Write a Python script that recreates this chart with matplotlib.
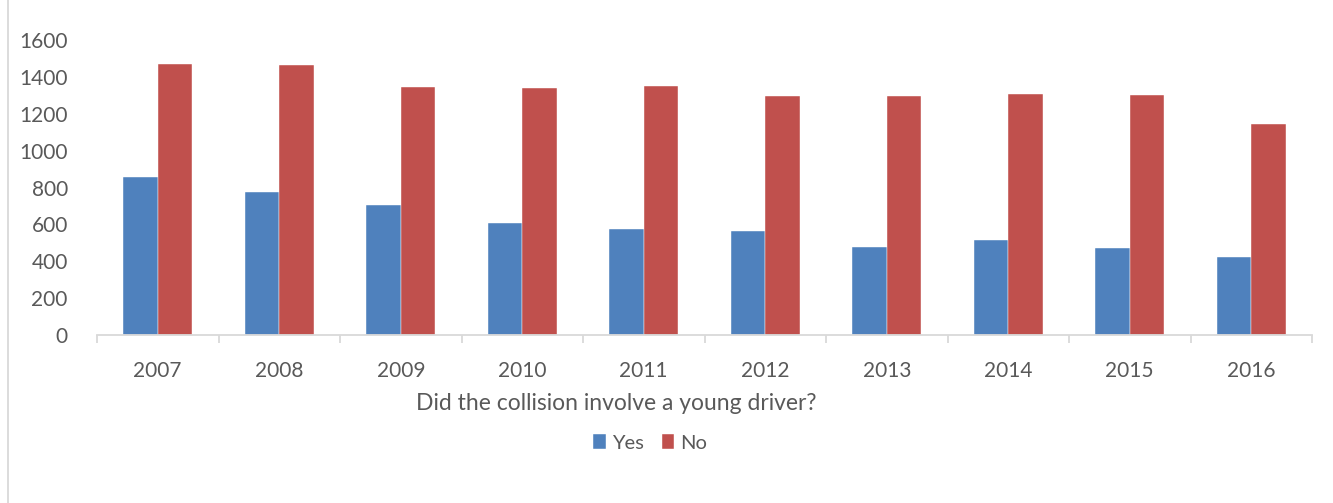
import matplotlib.pyplot as plt
import numpy as np
from matplotlib.lines import Line2D

plt.rcParams['font.family'] = ['Lato', 'DejaVu Sans']

years = ['2007', '2008', '2009', '2010', '2011', '2012', '2013', '2014', '2015', '2016']
yes_counts = [856, 774, 703, 607, 575, 562, 477, 517, 473, 422]
no_counts = [1471, 1463, 1344, 1340, 1349, 1297, 1295, 1307, 1300, 1144]

BLUE = '#4f81bd'
RED = '#c0504d'
GREY_TXT = '#595959'
GREY_LINE = '#d9d9d9'

W, H = 1333, 503
fig = plt.figure(figsize=(W / 100, H / 100), dpi=100)
# axes position in pixels: left 97, right 1312, bottom 335, top 40
ax = fig.add_axes([97 / W, 1 - 335 / H, (1312 - 97) / W, (335 - 40) / H])

x = np.arange(len(years))
bw = 0.284
ax.bar(x - bw / 2, yes_counts, bw, color=BLUE, label='Yes', edgecolor='white', linewidth=0.3)
ax.bar(x + bw / 2, no_counts, bw, color=RED, label='No', edgecolor='white', linewidth=0.3)

ax.set_xlim(-0.5, len(years) - 0.5)
ax.set_ylim(0, 1600)
ax.set_yticks(range(0, 1601, 200))

# ticks between categories, labels at centres
ax.set_xticks(np.arange(-0.5, len(years), 1))
ax.set_xticklabels([])
ax.set_xticks(x, minor=True)
ax.set_xticklabels(years, minor=True)
ax.tick_params(axis='x', which='major', length=6, color=GREY_LINE, width=1.3, direction='out')
ax.tick_params(axis='x', which='minor', length=0, pad=19, labelsize=15, labelcolor=GREY_TXT)
ax.tick_params(axis='y', length=0, pad=21, labelsize=15, labelcolor=GREY_TXT)

for s in ['top', 'right', 'left']:
    ax.spines[s].set_visible(False)
ax.spines['bottom'].set_color(GREY_LINE)
ax.spines['bottom'].set_linewidth(1.3)

fig.text(616 / W, 1 - 404 / H, 'Did the collision involve a young driver?',
         ha='center', va='center', fontsize=16.5, color=GREY_TXT)

leg = fig.legend(loc='center', bbox_to_anchor=(650 / W, 1 - 443 / H), ncol=2, frameon=False,
                 fontsize=14.5, handlelength=0.6, handleheight=0.75, handletextpad=0.3,
                 columnspacing=0.9)
for t in leg.get_texts():
    t.set_color(GREY_TXT)

# chart-area border on the left
fig.add_artist(Line2D([8 / W, 8 / W], [0, 1], color=GREY_LINE, linewidth=1.3))

fig.savefig('out.png', dpi=100)
